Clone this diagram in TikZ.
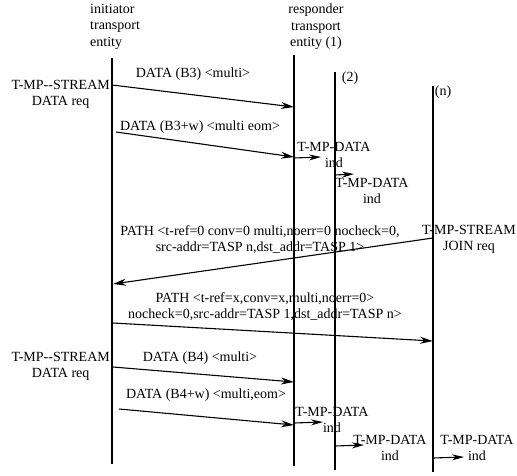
\documentclass[tikz,border=0pt]{standalone}
\usepackage{fontspec}
\setmainfont{Liberation Serif}
\usetikzlibrary{arrows.meta,positioning}

\begin{document}
\begin{tikzpicture}[x=1pt, y=-1pt,
    txt/.style={inner sep=0pt, align=center, font=\fontsize{14}{15.5}\selectfont},
    head/.style={inner sep=0pt, font=\fontsize{14}{16.5}\selectfont},
    life/.style={line width=1.4pt},
    msg/.style={-{Stealth[length=13pt,width=7pt]}, line width=1.1pt},
    tick/.style={-{Stealth[length=12pt,width=6pt]}, line width=1.1pt}
  ]
  \useasboundingbox (0,0) rectangle (517,475);

  \coordinate (ini top) at (112,58);  \coordinate (ini bot) at (112,464);
  \coordinate (r1 top)  at (294,55);  \coordinate (r1 bot)  at (294,466);
  \coordinate (r2 top)  at (335,72);  \coordinate (r2 bot)  at (335,470);
  \coordinate (rn top)  at (433,86);  \coordinate (rn bot)  at (433,472);
  \draw[life] (ini top) -- (ini bot);
  \draw[life] (r1 top)  -- (r1 bot);
  \draw[life] (r2 top)  -- (r2 bot);
  \draw[life] (rn top)  -- (rn bot);

  \node[head, anchor=north west, align=left] (hini) at (90,4)  {initiator\\transport\\entity};
  \node[head, anchor=north, align=center]    (hr1)  at (316,4) {responder\\transport\\entity (1)};
  \node[txt] (hr2) at (350,78) {(2)};
  \node[txt] (hrn) at (443,92) {(n)};

  \node[txt, anchor=north east] (req1) at (110,80.5) {T-MP-{}-STREAM\\DATA req};
  \node[txt, anchor=base] (b3) at (193,77.6) {DATA (B3) <multi>};
  \coordinate (b3s) at (112,85);  \coordinate (b3e) at (294,107);
  \draw[msg] (b3s) -- (b3e);

  \node[txt, anchor=base] (b3w) at (200,130.6) {DATA (B3+w) <multi eom>};
  \coordinate (b3ws) at (116,132);  \coordinate (b3we) at (294,157);
  \draw[msg] (b3ws) -- (b3we);

  \node[txt, anchor=north] (ind1) at (334,142.5) {T-MP-DATA\\ind};
  \coordinate (i1s) at (294,158);  \coordinate (i1e) at (321,157);
  \draw[tick] (i1s) -- (i1e);
  \coordinate (i2s) at (335,175);  \coordinate (i2e) at (354,174);
  \draw[tick] (i2s) -- (i2e);
  \node[txt, anchor=north] (ind2) at (372,178.5) {T-MP-DATA\\ind};

  \node[txt, anchor=north] (path1) at (260,225.5)
    {PATH <t-ref=0 conv=0 multi,noerr=0 nocheck=0,\\src-addr=TASP n,dst\_addr=TASP 1>};
  \node[txt, anchor=north] (join) at (469,225.5) {T-MP-STREAM\\JOIN req};
  \coordinate (p1s) at (433,238);  \coordinate (p1e) at (113,284);
  \draw[msg] (p1s) -- (p1e);

  \node[txt, anchor=north] (path2) at (265,292.5)
    {PATH <t-ref=x,conv=x,multi,noerr=0>\\nocheck=0,src-addr=TASP 1,dst\_addr=TASP n>};
  \coordinate (p2s) at (113,323);  \coordinate (p2e) at (433,341);
  \draw[msg] (p2s) -- (p2e);

  \node[txt, anchor=north east] (req2) at (110,352.5) {T-MP-{}-STREAM\\DATA req};
  \node[txt, anchor=base] (b4) at (200,361.6) {DATA (B4) <multi>};
  \coordinate (b4s) at (113,367);  \coordinate (b4e) at (294,382);
  \draw[msg] (b4s) -- (b4e);

  \node[txt, anchor=base] (b4w) at (206,398.6) {DATA (B4+w) <multi,eom>};
  \coordinate (b4ws) at (119,409);  \coordinate (b4we) at (294,425);
  \draw[msg] (b4ws) -- (b4we);

  \node[txt, anchor=north] (ind3) at (332,407.5) {T-MP-DATA\\ind};
  \coordinate (i3s) at (294,423);  \coordinate (i3e) at (323,422);
  \draw[tick] (i3s) -- (i3e);
  \node[txt, anchor=north] (ind4) at (390,435.5) {T-MP-DATA\\ind};
  \coordinate (i4s) at (335,446);  \coordinate (i4e) at (364,445);
  \draw[tick] (i4s) -- (i4e);
  \node[txt, anchor=north] (ind5) at (477,435.5) {T-MP-DATA\\ind};
  \coordinate (i5s) at (433,458);  \coordinate (i5e) at (464,457);
  \draw[tick] (i5s) -- (i5e);
\end{tikzpicture}
\end{document}
